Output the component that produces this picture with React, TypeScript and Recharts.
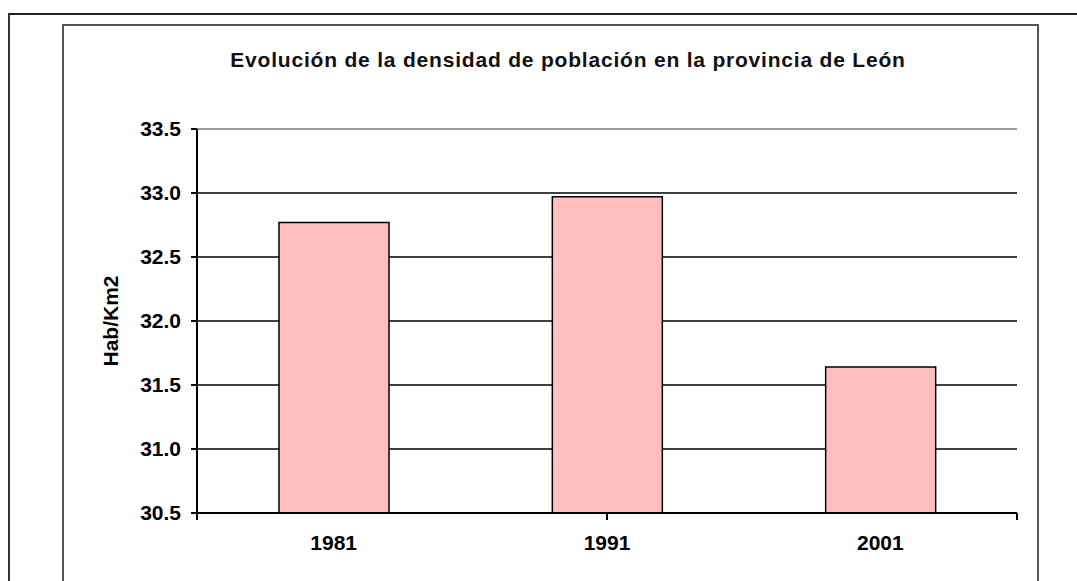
import { BarChart, Bar, XAxis, YAxis, CartesianGrid, ReferenceLine, Label } from "recharts";

const years = ["1981", "1991", "2001"];
const density = [32.77, 32.97, 31.64];
const yTicks = [30.5, 31, 31.5, 32, 32.5, 33, 33.5];
const edgeTicks = [0, 1, 2, 3];
const title = "Evolución de la densidad de población en la provincia de León";

const data = years.map((year, i) => ({ year, value: density[i] }));

const font = '"Liberation Sans", Arial, sans-serif';

export default function App() {
  return (
    <div
      style={{
        position: "fixed",
        left: 0,
        top: 0,
        width: 1077,
        height: 581,
        overflow: "hidden",
        background: "#fff",
        fontFamily: font,
      }}
    >
      {/* outer page frame */}
      <div
        style={{
          position: "absolute",
          left: 8,
          top: 13,
          width: 1200,
          height: 700,
          borderTop: "2px solid #222",
          borderLeft: "2px solid #333",
        }}
      />
      {/* chart frame */}
      <div
        style={{
          position: "absolute",
          left: 62,
          top: 24,
          width: 973,
          height: 700,
          border: "2px solid #555",
        }}
      />
      <div
        style={{
          position: "absolute",
          left: 168,
          top: 49,
          width: 800,
          textAlign: "center",
          fontSize: 21,
          lineHeight: "21px",
          fontWeight: "bold",
          letterSpacing: 0.8,
          color: "#111",
        }}
      >
        {title}
      </div>
      <div style={{ position: "absolute", left: 0, top: 0 }}>
        <BarChart
          width={1077}
          height={581}
          data={data}
          margin={{ top: 129, right: 60, bottom: 28, left: 117 }}
        >
          <CartesianGrid
            vertical={false}
            stroke="#000"
            strokeWidth={1.5}
            horizontalValues={[31, 31.5, 32, 32.5, 33]}
          />
          {/* axis line + tick marks between the categories */}
          <XAxis
            xAxisId="edges"
            type="number"
            domain={[0, 3]}
            ticks={edgeTicks}
            interval={0}
            tickFormatter={() => ""}
            axisLine={{ stroke: "#000", strokeWidth: 2 }}
            tickLine={{ stroke: "#000", strokeWidth: 2 }}
            tickSize={7}
            height={1}
          />
          <XAxis
            xAxisId="years"
            dataKey="year"
            axisLine={false}
            tickLine={false}
            tickSize={0}
            tickMargin={21}
            height={39}
            tick={{ fill: "#000", fontSize: 21, fontWeight: "bold", fontFamily: font }}
          />
          <YAxis
            width={80}
            domain={[30.5, 33.5]}
            ticks={yTicks}
            interval={0}
            tickFormatter={(v: number) => v.toFixed(1)}
            axisLine={{ stroke: "#000", strokeWidth: 2 }}
            tickLine={{ stroke: "#000", strokeWidth: 2 }}
            tickSize={6}
            tickMargin={10}
            tick={{ fill: "#000", fontSize: 21, fontWeight: "bold", fontFamily: font }}
          >
            <Label
              content={({ viewBox }: any) => {
                const cx = viewBox.x - 7;
                const cy = viewBox.y + viewBox.height / 2;
                return (
                  <text
                    x={cx}
                    y={cy}
                    transform={`rotate(-90 ${cx} ${cy})`}
                    textAnchor="middle"
                    dominantBaseline="central"
                    fontSize={21}
                    fontWeight="bold"
                    fontFamily={font}
                    fill="#000"
                  >
                    Hab/Km2
                  </text>
                );
              }}
            />
          </YAxis>
          <ReferenceLine y={33.5} stroke="#999" strokeWidth={2} />
          <ReferenceLine x={3} xAxisId="edges" stroke="#999" strokeWidth={2} />
          <Bar
            xAxisId="years"
            dataKey="value"
            fill="#FFBFBF"
            stroke="#000"
            strokeWidth={1.5}
            barSize={110}
            isAnimationActive={false}
          />
        </BarChart>
      </div>
    </div>
  );
}
